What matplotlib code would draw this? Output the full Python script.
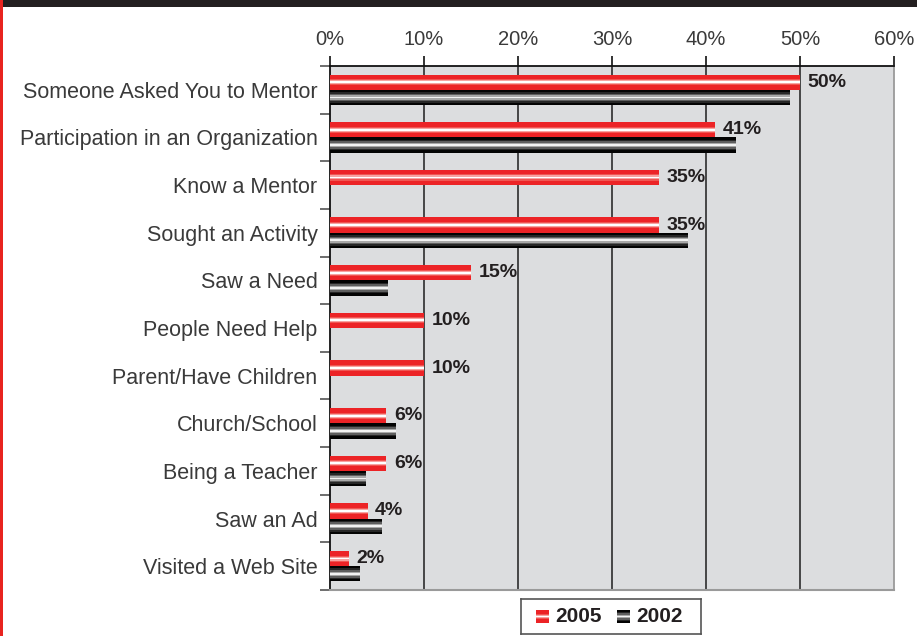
import matplotlib
matplotlib.use("Agg")
import matplotlib.pyplot as plt
import numpy as np
from matplotlib.patches import Rectangle

CATEGORIES = [
    "Someone Asked You to Mentor",
    "Participation in an Organization",
    "Know a Mentor",
    "Sought an Activity",
    "Saw a Need",
    "People Need Help",
    "Parent/Have Children",
    "Church/School",
    "Being a Teacher",
    "Saw an Ad",
    "Visited a Web Site",
]
VALUES_2005 = [50, 41, 35, 35, 15, 10, 10, 6, 6, 4, 2]
VALUES_2002 = [48.9, 43.2, None, 38.1, 6.2, None, None, 7.0, 3.8, 5.5, 3.2]
XTICKS = [0, 10, 20, 30, 40, 50, 60]

# shading layers (height fraction, colour) to fake the cylinder look
RED_LAYERS = [(1.0, "#ec2326"), (0.4, "#f05552"), (0.26, "#f7a3a1"),
              (0.12, "#ffffff")]
BLACK_LAYERS = [(1.0, "#030303"), (0.7, "#262626"), (0.5, "#5e5e5e"),
                (0.3, "#a8a8a8"), (0.12, "#f2f2f2")]

plt.rcParams["font.family"] = ["Liberation Sans", "DejaVu Sans"]

fig = plt.figure(figsize=(9.17, 6.36), dpi=100)
ax = fig.add_axes([330 / 917, 1 - 590 / 636, 564 / 917, (590 - 66) / 636])
ax.set_facecolor("#dcdddf")

y = np.arange(len(CATEGORIES))
h = 0.32
off = h / 2


def shaded_bar(yc, width, layers):
    for frac, col in layers:
        ax.barh(yc, width, height=h * frac, left=0, color=col,
                edgecolor="none", zorder=3)


for i, (v5, v2) in enumerate(zip(VALUES_2005, VALUES_2002)):
    shaded_bar(y[i] - off, v5, RED_LAYERS)
    if v2 is not None:
        shaded_bar(y[i] + off, v2, BLACK_LAYERS)
    ax.annotate(f"{v5}%", (v5, y[i] - off), xytext=(5.5, 0),
                textcoords="offset points", va="center", ha="left",
                fontsize=14, fontweight="bold", color="#231f20", zorder=5)

ax.set_xlim(0, 60)
ax.set_ylim(len(CATEGORIES) - 0.5, -0.5)

# vertical gridlines
for xv in XTICKS[1:-1]:
    ax.axvline(xv, color="#3a3a3a", lw=1.3, zorder=2)

ax.xaxis.tick_top()
ax.set_xticks(XTICKS)
ax.set_xticklabels([f"{t}%" for t in XTICKS])
ax.tick_params(axis="x", direction="out", length=7, width=1.2,
               color="#111111", labelsize=14.5, pad=5, labelcolor="#3a3a3a")

ax.set_yticks(y)
ax.set_yticklabels(CATEGORIES)
ax.tick_params(axis="y", which="major", length=0, labelsize=15.5,
               pad=9, labelcolor="#3a3a3a")
ax.set_yticks(np.arange(-0.5, len(CATEGORIES) + 0.5, 1), minor=True)
ax.tick_params(axis="y", which="minor", length=7, width=1.2,
               color="#555555", direction="out")

ax.spines["top"].set_color("#111111")
ax.spines["top"].set_linewidth(1.3)
ax.spines["left"].set_color("#111111")
ax.spines["left"].set_linewidth(1.3)
ax.spines["right"].set_color("#9a9a9a")
ax.spines["right"].set_linewidth(1.3)
ax.spines["bottom"].set_color("#9a9a9a")
ax.spines["bottom"].set_linewidth(1.5)

# legend box
lax = fig.add_axes([521 / 917, 1 - 634 / 636, 180 / 917, 35 / 636])
lax.set_xlim(0, 180)
lax.set_ylim(0, 35)
lax.set_xticks([])
lax.set_yticks([])
for s in lax.spines.values():
    s.set_color("#555555")
    s.set_linewidth(1.2)
for x0, layers, label in [(15, RED_LAYERS, "2005"), (96, BLACK_LAYERS, "2002")]:
    for frac, col in layers:
        hh = 13 * frac
        lax.add_patch(Rectangle((x0, 17.5 - hh / 2), 13, hh, color=col, lw=0))
    lax.text(x0 + 19, 17.5, label, fontsize=15, fontweight="bold",
             va="center", ha="left", color="#231f20")

# page frame bits
fig.add_artist(Rectangle((0, 1 - 7 / 636), 1, 7 / 636, transform=fig.transFigure,
                         color="#231f20", lw=0))
fig.add_artist(Rectangle((0, 0), 2.5 / 917, 1, transform=fig.transFigure,
                         color="#e8231f", lw=0))

fig.savefig("out.png", dpi=100)
